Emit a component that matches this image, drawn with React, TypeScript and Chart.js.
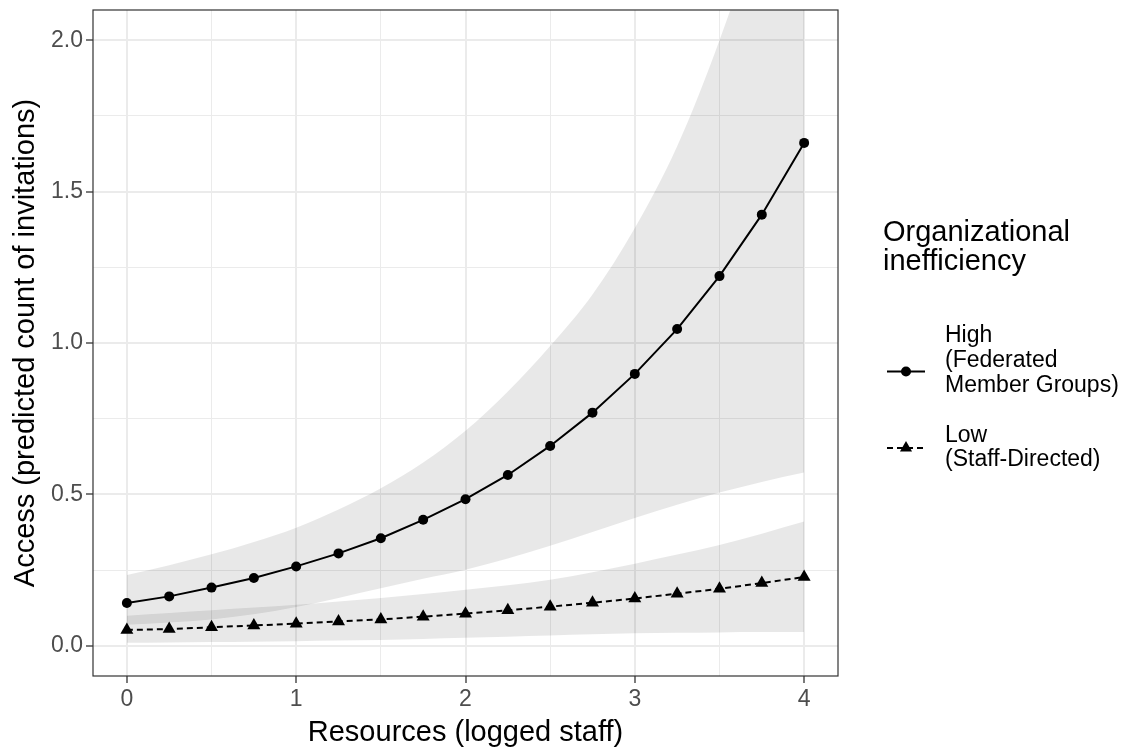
import React, { useEffect, useRef } from "react";
import { Chart, registerables } from "chart.js";

Chart.register(...registerables);

// ---- data ----
const resources = [0, 0.25, 0.5, 0.75, 1, 1.25, 1.5, 1.75, 2, 2.25, 2.5, 2.75, 3, 3.25, 3.5, 3.75, 4];
const highCounts = [0.141, 0.163, 0.192, 0.224, 0.262, 0.305, 0.355, 0.416, 0.484, 0.564, 0.66, 0.77, 0.898, 1.046, 1.221, 1.424, 1.661];
const highUpper = [0.234, 0.266, 0.302, 0.343, 0.39, 0.45, 0.52, 0.605, 0.71, 0.84, 0.99, 1.16, 1.38, 1.65, 2.0, 2.42, 2.95];
const highLower = [0.069, 0.077, 0.087, 0.104, 0.128, 0.158, 0.19, 0.221, 0.251, 0.288, 0.33, 0.376, 0.422, 0.466, 0.506, 0.541, 0.572];
const lowCounts = [0.052, 0.055, 0.061, 0.067, 0.073, 0.08, 0.087, 0.096, 0.106, 0.117, 0.129, 0.142, 0.156, 0.172, 0.188, 0.207, 0.227];
const lowUpper = [0.099, 0.108, 0.117, 0.126, 0.135, 0.146, 0.158, 0.171, 0.185, 0.2, 0.218, 0.243, 0.271, 0.301, 0.333, 0.37, 0.41];
const lowLower = [0.01, 0.011, 0.012, 0.013, 0.015, 0.017, 0.019, 0.022, 0.026, 0.03, 0.034, 0.038, 0.041, 0.043, 0.044, 0.045, 0.045];

const xTickValues = [0, 0.5, 1, 1.5, 2, 2.5, 3, 3.5, 4];
const yTickValues = [0, 0.25, 0.5, 0.75, 1, 1.25, 1.5, 1.75, 2];

const xTitle = "Resources (logged staff)";
const yTitle = "Access (predicted count of invitations)";
const legendTitle = ["Organizational", "inefficiency"];
const highLabel = ["High", "(Federated", "Member Groups)"];
const lowLabel = ["Low", "(Staff-Directed)"];

const FONT = "'Liberation Sans', Arial, Helvetica, sans-serif";
const RIBBON = "rgba(0,0,0,0.09)";

const isMajorX = (v: number) => Math.abs(v - Math.round(v)) < 1e-6;
const isMajorY = (v: number) => Math.abs(v * 2 - Math.round(v * 2)) < 1e-6;

const decorPlugin = {
  id: "decor",
  afterDatasetsDraw(chart: any) {
    const { ctx, chartArea } = chart;
    ctx.save();
    ctx.strokeStyle = "#333333";
    ctx.lineWidth = 1.2;
    ctx.strokeRect(chartArea.left, chartArea.top, chartArea.right - chartArea.left, chartArea.bottom - chartArea.top);
    ctx.restore();
  },
  afterDraw(chart: any) {
    const { ctx, chartArea } = chart;
    ctx.save();
    ctx.fillStyle = "#000";
    ctx.textBaseline = "alphabetic";
    // axis titles
    ctx.font = `29px ${FONT}`;
    ctx.textAlign = "center";
    ctx.fillText(xTitle, (chartArea.left + chartArea.right) / 2, 741);
    ctx.save();
    ctx.translate(34, (chartArea.top + chartArea.bottom) / 2);
    ctx.rotate(-Math.PI / 2);
    ctx.fillText(yTitle, 0, 0);
    ctx.restore();

    // legend title
    ctx.textAlign = "left";
    ctx.font = `29px ${FONT}`;
    ctx.fillText(legendTitle[0], 883, 241);
    ctx.fillText(legendTitle[1], 883, 270);

    // legend labels
    ctx.font = `23px ${FONT}`;
    highLabel.forEach((t, i) => ctx.fillText(t, 945, 342 + i * 25));
    lowLabel.forEach((t, i) => ctx.fillText(t, 945, 442 + i * 24));

    // keys
    ctx.strokeStyle = "#000";
    ctx.lineWidth = 2;
    ctx.beginPath();
    ctx.moveTo(887, 371.5);
    ctx.lineTo(925, 371.5);
    ctx.stroke();
    ctx.beginPath();
    ctx.arc(906, 371.5, 5, 0, Math.PI * 2);
    ctx.fill();

    ctx.setLineDash([6, 4]);
    ctx.beginPath();
    ctx.moveTo(887, 448);
    ctx.lineTo(925, 448);
    ctx.stroke();
    ctx.setLineDash([]);
    const r = 7;
    const cx = 906, cy = 448;
    ctx.beginPath();
    ctx.moveTo(cx, cy - r);
    ctx.lineTo(cx + r * Math.sin((2 * Math.PI) / 3), cy - r * Math.cos((2 * Math.PI) / 3));
    ctx.lineTo(cx + r * Math.sin((4 * Math.PI) / 3), cy - r * Math.cos((4 * Math.PI) / 3));
    ctx.closePath();
    ctx.fill();
    ctx.restore();
  },
};

export default function App() {
  const ref = useRef<HTMLCanvasElement>(null);

  useEffect(() => {
    if (!ref.current) return;
    const pts = (ys: number[]) => resources.map((x, i) => ({ x, y: ys[i] }));
    const chart = new Chart(ref.current, {
      type: "line",
      data: {
        datasets: [
          {
            label: "High (Federated Member Groups)",
            data: pts(highCounts),
            borderColor: "#000",
            borderWidth: 2,
            pointStyle: "circle",
            pointRadius: 5,
            pointBackgroundColor: "#000",
            pointBorderWidth: 0,
            fill: false,
          },
          {
            label: "Low (Staff-Directed)",
            data: pts(lowCounts),
            borderColor: "#000",
            borderWidth: 2,
            borderDash: [6, 4],
            pointStyle: "triangle",
            pointRadius: 7.5,
            pointBackgroundColor: "#000",
            pointBorderWidth: 0,
            fill: false,
          },
          {
            label: "highLower",
            data: pts(highLower),
            borderWidth: 0,
            pointRadius: 0,
            cubicInterpolationMode: "monotone",
            fill: false,
          },
          {
            label: "highUpper",
            data: pts(highUpper),
            borderWidth: 0,
            pointRadius: 0,
            cubicInterpolationMode: "monotone",
            backgroundColor: RIBBON,
            fill: 2,
          },
          {
            label: "lowLower",
            data: pts(lowLower),
            borderWidth: 0,
            pointRadius: 0,
            cubicInterpolationMode: "monotone",
            fill: false,
          },
          {
            label: "lowUpper",
            data: pts(lowUpper),
            borderWidth: 0,
            pointRadius: 0,
            cubicInterpolationMode: "monotone",
            backgroundColor: RIBBON,
            fill: 4,
          },
        ],
      },
      options: {
        responsive: false,
        animation: false,
        layout: { padding: { left: 0, top: 10, right: 290, bottom: 0 } },
        plugins: {
          legend: { display: false },
          tooltip: { enabled: false },
        },
        scales: {
          x: {
            type: "linear",
            min: -0.2,
            max: 4.2,
            afterBuildTicks: (s: any) => {
              s.ticks = xTickValues.map((v) => ({ value: v }));
            },
            afterFit: (s: any) => {
              s.height = 77;
              s.paddingLeft = 0;
              s.paddingRight = 0;
            },
            border: { display: false },
            grid: {
              color: "#ebebeb",
              lineWidth: (c: any) => (isMajorX(c.tick.value) ? 2 : 1),
              tickColor: (c: any) => (isMajorX(c.tick.value) ? "#333333" : "rgba(0,0,0,0)"),
              tickLength: 7,
              tickWidth: 1.3,
            },
            ticks: {
              autoSkip: false,
              maxRotation: 0,
              padding: 3,
              color: "#4d4d4d",
              font: { family: FONT, size: 23 },
              callback: (v: any) => (isMajorX(Number(v)) ? String(Math.round(Number(v))) : ""),
            },
          },
          y: {
            type: "linear",
            min: -0.1,
            max: 2.1,
            afterBuildTicks: (s: any) => {
              s.ticks = yTickValues.map((v) => ({ value: v }));
            },
            afterFit: (s: any) => {
              s.width = 93;
              s.paddingTop = 0;
              s.paddingBottom = 0;
            },
            border: { display: false },
            grid: {
              color: "#ebebeb",
              lineWidth: (c: any) => (isMajorY(c.tick.value) ? 2 : 1),
              tickColor: (c: any) => (isMajorY(c.tick.value) ? "#333333" : "rgba(0,0,0,0)"),
              tickLength: 7,
              tickWidth: 1.3,
            },
            ticks: {
              autoSkip: false,
              padding: 3,
              color: "#4d4d4d",
              font: { family: FONT, size: 23 },
              callback: (v: any) => (isMajorY(Number(v)) ? Number(v).toFixed(1) : ""),
            },
          },
        },
      },
      plugins: [decorPlugin],
    } as any);
    return () => chart.destroy();
  }, []);

  return (
    <div style={{ position: "fixed", left: 0, top: 0, width: 1128, height: 753, background: "#fff" }}>
      <canvas ref={ref} width={1128} height={753} />
    </div>
  );
}
